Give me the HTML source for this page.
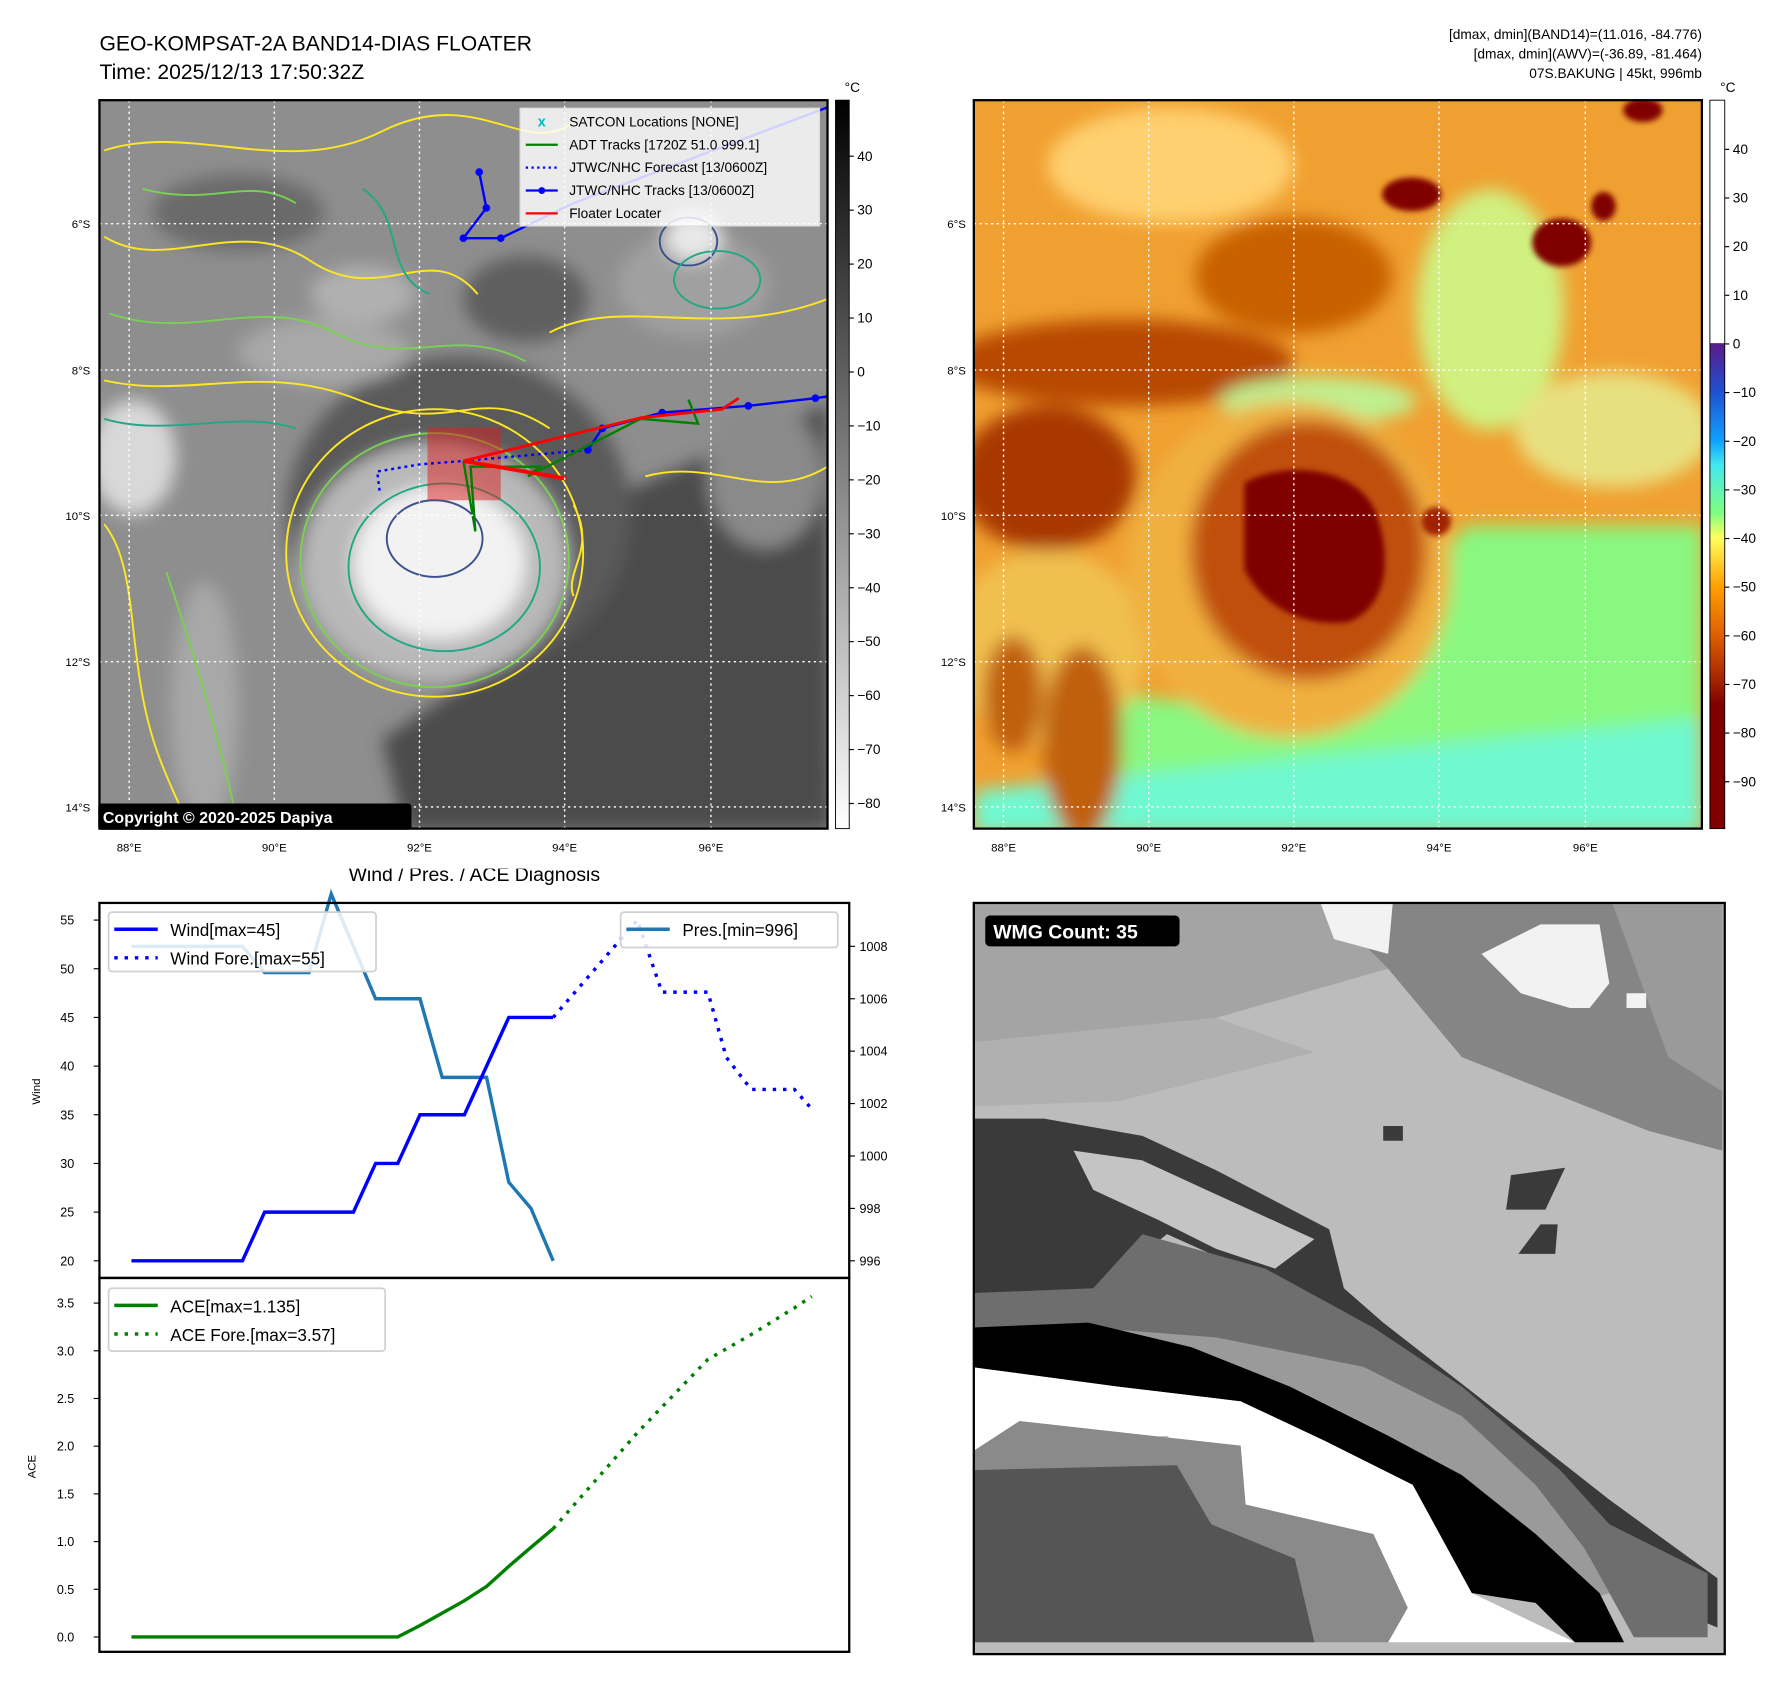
<!DOCTYPE html>
<html><head><meta charset="utf-8"><style>
html,body{margin:0;padding:0;background:#fff;width:1792px;height:1690px;overflow:hidden;position:relative;}
#wrap{position:absolute;left:0;top:0;width:1792px;height:1690px;transform:scale(0.995);transform-origin:0 0;}
svg.p{position:absolute;display:block;font-family:"Liberation Sans","DejaVu Sans",sans-serif;}
</style></head><body>
<div id="wrap">

<svg class="p" style="left:0;top:0" width="1792" height="100" viewBox="0 0 1560 87" preserveAspectRatio="none" xmlns="http://www.w3.org/2000/svg">
<text x="87" y="44" font-size="18.5">GEO-KOMPSAT-2A BAND14-DIAS FLOATER</text>
<text x="87" y="69" font-size="18.5">Time: 2025/12/13 17:50:32Z</text>
<g font-size="12" text-anchor="end">
<text x="1489" y="34">[dmax, dmin](BAND14)=(11.016, -84.776)</text>
<text x="1489" y="51">[dmax, dmin](AWV)=(-36.89, -81.464)</text>
<text x="1489" y="68">07S.BAKUNG | 45kt, 996mb</text>
</g>
</svg>

<svg class="p" style="left:0;top:80.4px" width="896" height="793" viewBox="0 70 780 690" preserveAspectRatio="none" xmlns="http://www.w3.org/2000/svg">
<defs>
<filter id="blA" x="-30%" y="-30%" width="160%" height="160%"><feGaussianBlur stdDeviation="18"/></filter>
<clipPath id="cl"><rect x="87" y="88" width="637" height="637"/></clipPath>
<linearGradient id="gcb" x1="0" y1="0" x2="0" y2="1"><stop offset="0" stop-color="#000"/><stop offset="1" stop-color="#fff"/></linearGradient>
</defs>
<g clip-path="url(#cl)">
<rect x="87" y="88" width="637" height="637" fill="#8e8e8e"/>
<g transform="translate(82.8,81.7) scale(0.419)">
 <g filter="url(#blA)">
  <polygon points="950,900 1530,650 1540,1540 650,1540 600,1350 900,1150" fill="#4c4c4c"/>
  <ellipse cx="760" cy="880" rx="360" ry="330" fill="#5a5a5a"/>
  <ellipse cx="300" cy="250" rx="180" ry="80" fill="#6a6a6a"/>
  <ellipse cx="900" cy="430" rx="130" ry="90" fill="#5e5e5e"/>
  <ellipse cx="560" cy="420" rx="110" ry="60" fill="#b0b0b0"/>
  <ellipse cx="480" cy="540" rx="180" ry="70" fill="#a8a8a8"/>
  <ellipse cx="1250" cy="400" rx="160" ry="110" fill="#a0a0a0"/>
  <ellipse cx="1400" cy="800" rx="120" ry="150" fill="#8a8a8a"/>
  <ellipse cx="80" cy="760" rx="90" ry="120" fill="#d8d8d8"/>
  <ellipse cx="230" cy="1280" rx="70" ry="260" fill="#a8a8a8"/>
  <ellipse cx="710" cy="980" rx="280" ry="250" fill="#b8b8b8"/>
  <ellipse cx="720" cy="980" rx="180" ry="160" fill="#f2f2f2"/>
  <ellipse cx="1250" cy="300" rx="60" ry="50" fill="#e8e8e8"/>
 </g>
 <g fill="none" stroke-width="4">
  <ellipse cx="710" cy="960" rx="310" ry="300" stroke="#fde725"/>
  <ellipse cx="710" cy="975" rx="280" ry="265" stroke="#7ad151"/>
  <ellipse cx="730" cy="990" rx="200" ry="175" stroke="#22a884"/>
  <ellipse cx="710" cy="930" rx="100" ry="80" stroke="#3b528b"/>
  <ellipse cx="1240" cy="310" rx="60" ry="50" stroke="#3b528b"/>
  <ellipse cx="1300" cy="390" rx="90" ry="60" stroke="#22a884"/>
  <path d="M20,120 C200,60 400,180 600,80 S900,140 1000,60" stroke="#fde725"/>
  <path d="M20,300 C150,380 300,250 450,350 S700,300 800,420" stroke="#fde725"/>
  <path d="M30,460 C200,520 350,420 500,500 S750,480 900,560" stroke="#7ad151"/>
  <path d="M20,600 C200,640 350,560 550,640 S800,600 950,700" stroke="#fde725"/>
  <path d="M20,680 C150,720 300,660 420,700" stroke="#22a884"/>
  <path d="M20,900 C100,1000 60,1200 140,1400 S220,1530 260,1530" stroke="#fde725"/>
  <path d="M150,1000 C200,1150 250,1300 300,1530" stroke="#7ad151"/>
  <path d="M950,500 C1100,420 1300,520 1530,430" stroke="#fde725"/>
  <path d="M1150,800 C1300,760 1400,860 1530,780" stroke="#fde725"/>
  <path d="M1000,860 C1050,950 980,1000 1000,1050" stroke="#fde725"/>
  <path d="M560,200 C650,260 600,380 700,420" stroke="#22a884"/>
  <path d="M100,200 C250,240 320,170 420,230" stroke="#7ad151"/>
 </g>
 <rect x="695" y="698" width="153" height="152" fill="rgba(220,30,30,0.5)"/>
 <polyline points="803,165 818,240 770,303 848,303 1000,230 1530,30" fill="none" stroke="#0000ff" stroke-width="5"/>
 <g fill="#0000ff"><circle cx="803" cy="165" r="8"/><circle cx="818" cy="240" r="8"/><circle cx="770" cy="303" r="8"/><circle cx="848" cy="303" r="8"/></g>
 <polyline points="1030,745 1060,700 1185,667 1365,653 1505,637 1540,632" fill="none" stroke="#0000ff" stroke-width="5"/>
 <g fill="#0000ff"><circle cx="1030" cy="745" r="8"/><circle cx="1060" cy="700" r="8"/><circle cx="1185" cy="667" r="8"/><circle cx="1365" cy="653" r="8"/><circle cx="1505" cy="637" r="8"/></g>
 <polyline points="595,830 590,790 680,775 770,768 1030,745" fill="none" stroke="#0000ff" stroke-width="5" stroke-dasharray="6,8"/>
 <polyline points="770,768 795,915 785,780 930,780 905,800 1140,680 1260,690 1240,640" fill="none" stroke="#008000" stroke-width="5"/>
 <polyline points="770,768 1140,678 1310,660 1345,637" fill="none" stroke="#ff0000" stroke-width="6"/>
 <polyline points="770,768 985,805" fill="none" stroke="#ff0000" stroke-width="8"/>
</g>
</g>
<g stroke="#fff" stroke-width="1.2" stroke-dasharray="2,3">
 <line x1="113" y1="88" x2="113" y2="725"/><line x1="240" y1="88" x2="240" y2="725"/><line x1="367" y1="88" x2="367" y2="725"/><line x1="494" y1="88" x2="494" y2="725"/><line x1="622" y1="88" x2="622" y2="725"/>
 <line x1="87" y1="196" x2="724" y2="196"/><line x1="87" y1="324" x2="724" y2="324"/><line x1="87" y1="451" x2="724" y2="451"/><line x1="87" y1="579" x2="724" y2="579"/><line x1="87" y1="706" x2="724" y2="706"/>
</g>
<g>
 <rect x="455" y="95" width="262" height="103" fill="rgba(255,255,255,0.82)" stroke="#ddd"/>
 <g font-size="12"><text x="498" y="111">SATCON Locations [NONE]</text><text x="498" y="131">ADT Tracks [1720Z 51.0 999.1]</text><text x="498" y="151">JTWC/NHC Forecast [13/0600Z]</text><text x="498" y="171">JTWC/NHC Tracks [13/0600Z]</text><text x="498" y="191">Floater Locater</text></g>
 <text x="474" y="111" font-size="13" fill="#00c0c0" text-anchor="middle" font-weight="bold">x</text>
 <line x1="460" y1="127" x2="488" y2="127" stroke="#008000" stroke-width="2"/>
 <line x1="460" y1="147" x2="488" y2="147" stroke="#0000ff" stroke-width="2" stroke-dasharray="2,3"/>
 <line x1="460" y1="167" x2="488" y2="167" stroke="#0000ff" stroke-width="2"/><circle cx="474" cy="167" r="3" fill="#0000ff"/>
 <line x1="460" y1="187" x2="488" y2="187" stroke="#ff0000" stroke-width="2"/>
</g>
<rect x="87" y="88" width="637" height="637" fill="none" stroke="#000" stroke-width="2"/>
<rect x="86" y="703" width="274" height="23" fill="#000" rx="3"/>
<text x="90" y="720" font-size="14" font-weight="bold" fill="#fff">Copyright &#169; 2020-2025 Dapiya</text>
<g font-size="10" text-anchor="end"><text x="79" y="200">6&#176;S</text><text x="79" y="328">8&#176;S</text><text x="79" y="455">10&#176;S</text><text x="79" y="583">12&#176;S</text><text x="79" y="710">14&#176;S</text></g>
<g font-size="10" text-anchor="middle"><text x="113" y="745">88&#176;E</text><text x="240" y="745">90&#176;E</text><text x="367" y="745">92&#176;E</text><text x="494" y="745">94&#176;E</text><text x="622" y="745">96&#176;E</text></g>
<rect x="731" y="88" width="12" height="637" fill="url(#gcb)" stroke="#000" stroke-width="0.8"/>
<text x="739" y="81" font-size="12">&#176;C</text>
<g id="lcb" font-size="12"></g>
</svg>

<svg class="p" style="left:896px;top:80.4px" width="896" height="793" viewBox="780 70 780 690" preserveAspectRatio="none" xmlns="http://www.w3.org/2000/svg">
<defs>
<filter id="blB" x="-30%" y="-30%" width="160%" height="160%"><feGaussianBlur stdDeviation="18"/></filter>
<filter id="blC" x="-30%" y="-30%" width="160%" height="160%"><feGaussianBlur stdDeviation="6"/></filter>
<clipPath id="cr"><rect x="852" y="88" width="637" height="637"/></clipPath>
<linearGradient id="ccb" x1="0" y1="0" x2="0" y2="1">
<stop offset="0" stop-color="#fff"/><stop offset="0.333" stop-color="#fff"/><stop offset="0.334" stop-color="#5a1a8a"/>
<stop offset="0.4" stop-color="#2050d0"/><stop offset="0.467" stop-color="#10a0ff"/><stop offset="0.5" stop-color="#40e8f0"/>
<stop offset="0.567" stop-color="#80ff80"/><stop offset="0.6" stop-color="#ffff60"/><stop offset="0.667" stop-color="#ffa000"/>
<stop offset="0.733" stop-color="#e06000"/><stop offset="0.8" stop-color="#a02000"/><stop offset="0.83" stop-color="#800000"/><stop offset="1" stop-color="#800000"/>
</linearGradient>
</defs>
<g clip-path="url(#cr)">
<rect x="852" y="88" width="637" height="637" fill="#f0a030"/>
<g transform="translate(852,82) scale(0.4304,0.4205)">
 <g filter="url(#blB)">
  <ellipse cx="400" cy="150" rx="250" ry="120" fill="#ffd070"/>
  <ellipse cx="1050" cy="450" rx="150" ry="250" fill="#d0f080"/>
  <ellipse cx="1300" cy="700" rx="200" ry="120" fill="#e8e080"/>
  <ellipse cx="300" cy="560" rx="350" ry="90" fill="#b84a00"/>
  <ellipse cx="150" cy="800" rx="180" ry="150" fill="#a83800"/>
  <ellipse cx="650" cy="380" rx="200" ry="120" fill="#c86000"/>
  <polygon points="300,1250 700,1300 1000,900 1480,900 1480,1540 300,1540" fill="#88f880"/>
  <polygon points="0,1450 1480,1300 1480,1540 0,1540" fill="#70f8d0"/>
  <ellipse cx="700" cy="640" rx="200" ry="50" fill="#c0f090"/>
  <ellipse cx="150" cy="1150" rx="200" ry="200" fill="#f0c050"/>
  <ellipse cx="640" cy="990" rx="330" ry="350" fill="#f0b040"/>
  <ellipse cx="680" cy="950" rx="240" ry="270" fill="#c05010"/>
  <ellipse cx="220" cy="1350" rx="80" ry="200" fill="#c06010"/>
  <ellipse cx="80" cy="1250" rx="60" ry="120" fill="#c06010"/>
 </g>
 <g filter="url(#blC)">
  <path d="M550,810 C640,760 790,780 820,880 C850,970 840,1070 760,1100 C670,1110 590,1070 550,990 Z" fill="#800000"/>
  <ellipse cx="890" cy="210" rx="60" ry="35" fill="#800000"/>
  <ellipse cx="1195" cy="310" rx="60" ry="50" fill="#800000"/>
  <ellipse cx="1360" cy="35" rx="40" ry="25" fill="#800000"/>
  <ellipse cx="1280" cy="235" rx="25" ry="30" fill="#800000"/>
  <ellipse cx="940" cy="890" rx="30" ry="30" fill="#a02000"/>
 </g>
</g>
</g>
<g stroke="#fff" stroke-width="1.2" stroke-dasharray="2,3">
 <line x1="878" y1="88" x2="878" y2="725"/><line x1="1005" y1="88" x2="1005" y2="725"/><line x1="1132" y1="88" x2="1132" y2="725"/><line x1="1259" y1="88" x2="1259" y2="725"/><line x1="1387" y1="88" x2="1387" y2="725"/>
 <line x1="852" y1="196" x2="1489" y2="196"/><line x1="852" y1="324" x2="1489" y2="324"/><line x1="852" y1="451" x2="1489" y2="451"/><line x1="852" y1="579" x2="1489" y2="579"/><line x1="852" y1="706" x2="1489" y2="706"/>
</g>
<rect x="852" y="88" width="637" height="637" fill="none" stroke="#000" stroke-width="2"/>
<g font-size="10" text-anchor="end"><text x="845" y="200">6&#176;S</text><text x="845" y="328">8&#176;S</text><text x="845" y="455">10&#176;S</text><text x="845" y="583">12&#176;S</text><text x="845" y="710">14&#176;S</text></g>
<g font-size="10" text-anchor="middle"><text x="878" y="745">88&#176;E</text><text x="1005" y="745">90&#176;E</text><text x="1132" y="745">92&#176;E</text><text x="1259" y="745">94&#176;E</text><text x="1387" y="745">96&#176;E</text></g>
<rect x="1496" y="88" width="13" height="637" fill="url(#ccb)" stroke="#000" stroke-width="0.8"/>
<text x="1505" y="81" font-size="12">&#176;C</text>
<g id="rcb" font-size="12"></g>
</svg>

<svg class="p" style="left:896px;top:873px" width="896" height="817" viewBox="780 760 780 711" preserveAspectRatio="none" xmlns="http://www.w3.org/2000/svg">
<defs><clipPath id="cw"><rect x="852" y="790" width="657" height="657"/></clipPath></defs>
<g clip-path="url(#cw)">
<rect x="852" y="790" width="657" height="657" fill="#bcbcbc"/>
<g transform="translate(849,783) scale(0.43)">
 <polygon points="0,0 700,0 850,150 500,250 0,300" fill="#a4a4a4"/>
 <polygon points="0,300 500,250 700,320 300,420 0,430" fill="#b0b0b0"/>
 <polygon points="700,0 1530,0 1530,520 1380,480 1000,330 850,150" fill="#858585"/>
 <polygon points="1300,0 1530,0 1530,400 1420,330" fill="#9a9a9a"/>
 <polygon points="710,10 860,10 850,120 740,90" fill="#f2f2f2"/>
 <polygon points="1040,120 1160,60 1280,60 1300,180 1260,230 1220,230 1120,200" fill="#f2f2f2"/>
 <rect x="1335" y="200" width="40" height="30" fill="#f2f2f2"/>
 <rect x="840" y="470" width="40" height="30" fill="#3a3a3a"/>
 <polygon points="1100,570 1210,555 1170,640 1090,640" fill="#3a3a3a"/>
 <polygon points="1160,670 1195,670 1190,730 1115,730" fill="#3a3a3a"/>
 <polygon points="0,455 150,455 350,490 500,560 730,680 760,800 840,870 1020,1010 1300,1230 1520,1390 1520,1490 1350,1420 1200,1300 1000,1100 800,960 600,780 400,690 250,810 0,810" fill="#3a3a3a"/>
 <polygon points="210,520 350,540 480,600 700,700 620,760 500,720 380,660 250,600" fill="#c4c4c4"/>
 <polygon points="0,810 250,800 350,690 600,760 820,880 1000,1000 1200,1170 1300,1280 1500,1380 1500,1510 1350,1510 1250,1330 1050,1170 800,1020 500,960 240,880 0,880" fill="#6e6e6e"/>
 <polygon points="240,880 500,900 800,960 1000,1060 1150,1200 1250,1330 1300,1420 1240,1440 1100,1300 900,1150 650,1030 350,960" fill="#9a9a9a"/>
 <polygon points="0,880 240,870 450,920 650,1000 850,1100 1000,1180 1150,1300 1280,1420 1330,1520 1230,1520 1150,1440 1020,1420 900,1200 720,1110 550,1030 300,1000 0,960" fill="#000"/>
 <polygon points="0,960 300,1000 550,1030 720,1110 900,1200 1020,1420 1230,1520 850,1520 800,1330 550,1240 400,1100 0,1135" fill="#fff"/>
 <polygon points="0,1135 100,1070 550,1120 560,1240 820,1300 890,1450 850,1520 0,1520" fill="#8a8a8a"/>
 <polygon points="0,1170 420,1160 490,1280 660,1350 700,1520 0,1520" fill="#555"/>
</g>
</g>
<rect x="852" y="790" width="657" height="657" fill="none" stroke="#000" stroke-width="2"/>
<rect x="862" y="801" width="170" height="27" rx="4" fill="#000"/>
<text x="869" y="821" font-size="17" font-weight="bold" fill="#fff">WMG Count: 35</text>
</svg>

<svg class="p" style="left:0;top:873px" width="896" height="817" viewBox="0 760 780 711" preserveAspectRatio="none" xmlns="http://www.w3.org/2000/svg">
<text x="415" y="771" font-size="17" text-anchor="middle">Wind / Pres. / ACE Diagnosis</text>
<g id="chart"></g>
<rect x="87" y="790" width="656" height="328" fill="none" stroke="#000" stroke-width="2"/>
<rect x="87" y="1118" width="656" height="327" fill="none" stroke="#000" stroke-width="2"/>
<text transform="translate(35,955) rotate(-90)" font-size="10" text-anchor="middle">Wind</text>
<text transform="translate(817,955) rotate(-90)" font-size="10" text-anchor="middle">Pressure</text>
<text transform="translate(31,1283) rotate(-90)" font-size="10" text-anchor="middle">ACE</text>
</svg>
</div>

<script>
const obsIdx=[0,1,2,3,4,5,6,7,8,9,10,11,12,13,14,15,16,17,18,19];
const windObs=[20,20,20,20,20,20,25,25,25,25,25,30,30,35,35,35,40,45,45,45];
const presObs=[1008,1008,1008,1008,1008,1008,1007,1007,1007,1010,1008,1006,1006,1006,1003,1003,1003,999,998,996];
const aceObs=[0,0,0,0,0,0,0,0,0,0,0,0,0,0.12,0.25,0.38,0.53,0.74,0.94,1.135];
const windForeIdx=[19,22.79,23.9,25.97,26.8,27.92,29.87,30.65];
const windFore=[45,55,47.6,47.6,40.9,37.6,37.6,35.6];
const aceForeIdx=[19,22.79,23.9,25.97,27.92,29.87,30.65];
const aceFore=[1.135,2.14,2.41,2.91,3.17,3.45,3.57];
const windTicks=[20,25,30,35,40,45,50,55];
const presTicks=[996,998,1000,1002,1004,1006,1008];
const aceTicks=[0,0.5,1,1.5,2,2.5,3,3.5];
const irCbTicks=[40,30,20,10,0,-10,-20,-30,-40,-50,-60,-70,-80];
const awvCbTicks=[40,30,20,10,0,-10,-20,-30,-40,-50,-60,-70,-80,-90];

const NS="http://www.w3.org/2000/svg";
const xS=i=>115+i*19.42;
const windY=v=>805+(55-v)*8.514;
const presY=p=>1103-(p-996)*22.92;
const aceY=a=>1432-a*83.43;
const irCbY=v=>137+(40-v)*4.717;
const awvCbY=v=>131+(40-v)*4.254;
const chart=document.getElementById('chart');
function mk(tag,attrs,parent){const e=document.createElementNS(NS,tag);for(const k in attrs)e.setAttribute(k,attrs[k]);(parent||chart).appendChild(e);return e;}
function pts(xs,ys,fy){return xs.map((x,i)=>xS(x)+','+fy(ys[i])).join(' ');}

windTicks.forEach(v=>{const y=windY(v);
 const t=mk('line',{x1:82,x2:87,y1:y,y2:y,stroke:'#000'});
 
 
 const l=mk('text',{x:65,y:y+4,'font-size':11,'text-anchor':'end'});l.textContent=v;
 
 });
presTicks.forEach(v=>{const y=presY(v);
 const t=mk('line',{x1:743,x2:748,y1:y,y2:y,stroke:'#000'});
 
 
 const l=mk('text',{x:752,y:y+4,'font-size':11});l.textContent=v;
 
 });
aceTicks.forEach(v=>{const y=aceY(v);
 const t=mk('line',{x1:82,x2:87,y1:y,y2:y,stroke:'#000'});
 
 
 const l=mk('text',{x:65,y:y+4,'font-size':11,'text-anchor':'end'});l.textContent=v.toFixed(1);
 
 });

let s;
s=mk('polyline',{points:pts(obsIdx,presObs,presY),fill:'none',stroke:'#1f77b4','stroke-width':3});


s=mk('polyline',{points:pts(obsIdx,windObs,windY),fill:'none',stroke:'#0000ff','stroke-width':3});


s=mk('polyline',{points:pts(windForeIdx,windFore,windY),fill:'none',stroke:'#0000ff','stroke-width':3,'stroke-dasharray':'3,6'});


s=mk('polyline',{points:pts(obsIdx,aceObs,aceY),fill:'none',stroke:'#008000','stroke-width':3});


s=mk('polyline',{points:pts(aceForeIdx,aceFore,aceY),fill:'none',stroke:'#008000','stroke-width':3,'stroke-dasharray':'3,6'});



function legend(name,x,y,w,h,rows){const g=mk('g',{});
 
 
 mk('rect',{x:x,y:y,width:w,height:h,rx:3,fill:'rgba(255,255,255,0.85)',stroke:'#d0d0d0','stroke-width':1.5},g);
 rows.forEach((r,i)=>{const yy=y+15+i*25;
  const a={x1:x+5,x2:x+43,y1:yy,y2:yy,stroke:r[1],'stroke-width':3};if(r[2])a['stroke-dasharray']='3,6';
  mk('line',a,g);
  const t=mk('text',{x:x+54,y:yy+6,'font-size':15},g);t.textContent=r[0];});}
legend('wind-legend',95,798,234,52,[['Wind[max=45]','#0000ff',0],['Wind Fore.[max=55]','#0000ff',1]]);
legend('pressure-legend',543,798,190,31,[['Pres.[min=996]','#1f77b4',0]]);
legend('ace-legend',95,1127,242,55,[['ACE[max=1.135]','#008000',0],['ACE Fore.[max=3.57]','#008000',1]]);

const lcb=document.getElementById('lcb'),rcb=document.getElementById('rcb');
irCbTicks.forEach(v=>{const y=irCbY(v);
 const t=mk('line',{x1:743,x2:747,y1:y,y2:y,stroke:'#000'},lcb);
 
 
 const l=mk('text',{x:750,y:y+4},lcb);l.textContent=v<0?'\u2212'+(-v):v;
 
 });
awvCbTicks.forEach(v=>{const y=awvCbY(v);
 const t=mk('line',{x1:1509,x2:1513,y1:y,y2:y,stroke:'#000'},rcb);
 
 
 const l=mk('text',{x:1516,y:y+4},rcb);l.textContent=v<0?'\u2212'+(-v):v;
 
 });
</script>
</body></html>
